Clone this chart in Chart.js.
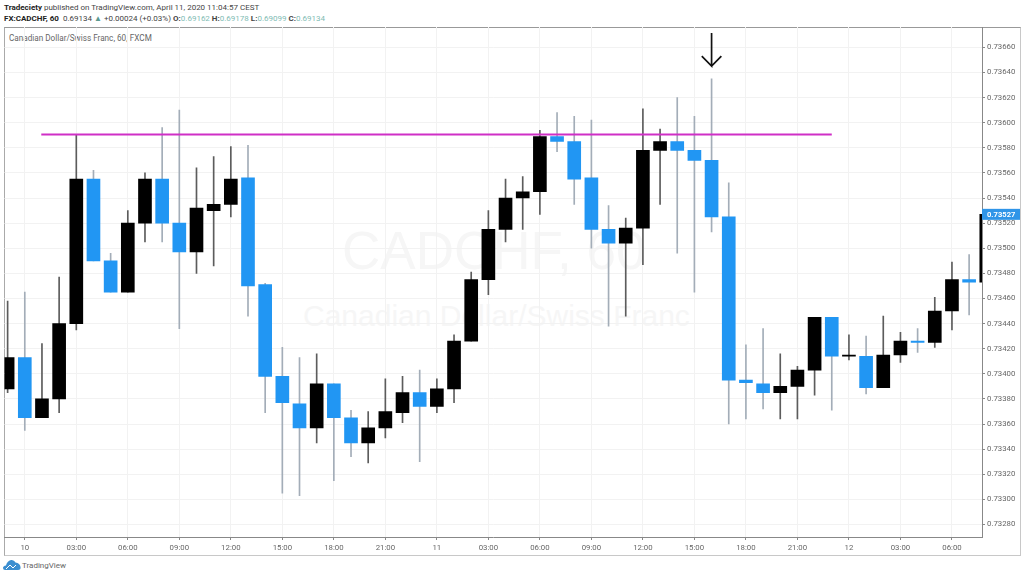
<!DOCTYPE html>
<html>
<head>
<meta charset="utf-8">
<script src="https://cdn.jsdelivr.net/npm/chart.js@4"></script>
<style>
html,body{margin:0;padding:0;background:#fff;width:1024px;height:578px;overflow:hidden;font-family:Roboto,sans-serif}
.t{position:absolute;white-space:nowrap;line-height:1}
#frame{position:absolute;left:4px;top:27px;width:1015px;height:527px;border:1px solid #c8c8c8;border-top-color:#999;border-left-color:#aaa}
canvas{position:absolute;left:0;top:0}
b{font-weight:700}
.v{color:#7fbcb4}
</style>
</head>
<body>
<div id="frame"></div>
<div class="t" style="left:342px;top:224px;font-family:'Liberation Sans',sans-serif;font-size:53px;color:#f6f6f6">CADCHF, 60</div>
<div class="t" style="left:303px;top:301px;font-family:'Liberation Sans',sans-serif;font-size:30px;color:#f6f6f6">Canadian Dollar/Swiss Franc</div>
<div class="t" style="left:4px;top:4px;font-size:8px;color:#444"><b style="color:#222">Tradeciety</b> published on TradingView.com, April 11, 2020 11:04:57 CEST</div>
<div class="t" style="left:4px;top:15px;font-size:8px;color:#444"><b style="color:#222">FX:CADCHF, 60</b>&nbsp; 0.69134 <span style="color:#5a9a90">▲</span> +0.00024 (+0.03%) <b>O:</b><span class="v">0.69162</span> <b>H:</b><span class="v">0.69178</span> <b>L:</b><span class="v">0.69099</span> <b>C:</b><span class="v">0.69134</span></div>
<div class="t" style="left:9px;top:34px;font-size:8.17px;color:#666">Canadian Dollar/Swiss Franc, 60, FXCM</div>
<svg style="position:absolute;left:3px;top:559px" width="18" height="12" viewBox="0 0 18 12"><path d="M2 11 Q0 11 0 9 Q0 7 3 6.5 Q4 2 8 1 Q11 0.5 12.5 3.5 Q17 4 17.5 8 Q18 11 15 11 Z" fill="#3b8ed0"/><path d="M3 10 L7 6 L10 9 L13 6" stroke="#fff" stroke-width="1" fill="none"/></svg>
<div class="t" style="left:22px;top:562px;font-size:8px;color:#666">TradingView</div>
<canvas id="c" width="1024" height="578" style="width:1024px;height:578px"></canvas>
<script>
const candleHours = [-1,0,1,2,3,4,5,6,7,8,9,10,11,12,13,14,15,16,17,18,19,20,21,22,23,24,25,26,27,28,29,30,31,32,33,34,35,36,37,38,39,40,41,42,43,44,45,46,47,48,49,50,51,52,53,54,55,56];
const opens  = [0.73388,0.73413,0.73365,0.73380,0.73440,0.73555,0.73490,0.73465,0.73520,0.73555,0.73520,0.73497,0.73530,0.73535,0.73556,0.73471,0.73398,0.73376,0.73357,0.73392,0.73365,0.73345,0.73357,0.73369,0.73385,0.73374,0.73388,0.73426,0.73475,0.73515,0.73540,0.73545,0.73589,0.73585,0.73556,0.73515,0.73504,0.73516,0.73578,0.73585,0.73578,0.73570,0.73525,0.73395,0.73392,0.73385,0.73390,0.73403,0.73445,0.73414,0.73414,0.73389,0.73415,0.73426,0.73425,0.73450,0.73475,0.73473];
const closes = [0.73413,0.73365,0.73380,0.73440,0.73555,0.73490,0.73465,0.73520,0.73555,0.73520,0.73497,0.73532,0.73535,0.73555,0.73470,0.73398,0.73377,0.73357,0.73392,0.73365,0.73345,0.73357,0.73370,0.73385,0.73374,0.73388,0.73426,0.73475,0.73515,0.73540,0.73545,0.73589,0.73585,0.73555,0.73515,0.73504,0.73516,0.73578,0.73585,0.73578,0.73570,0.73525,0.73395,0.73393,0.73385,0.73390,0.73403,0.73445,0.73414,0.73415,0.73389,0.73415,0.73426,0.73425,0.73450,0.73475,0.73473,0.73527];
const highs  = [0.73458,0.73465,0.73424,0.73477,0.73590,0.73562,0.73496,0.73530,0.73560,0.73596,0.73610,0.73564,0.73573,0.73581,0.73582,0.73472,0.73421,0.73413,0.73416,0.73392,0.73371,0.73370,0.73396,0.73398,0.73403,0.73396,0.73431,0.73481,0.73530,0.73555,0.73557,0.73594,0.73608,0.73605,0.73602,0.73534,0.73524,0.73611,0.73595,0.73620,0.73605,0.73635,0.73552,0.73423,0.73436,0.73416,0.73406,0.73445,0.73445,0.73431,0.73430,0.73446,0.73433,0.73436,0.73461,0.73489,0.73495,0.73527];
const lows   = [0.73385,0.73355,0.73365,0.73369,0.73435,0.73490,0.73465,0.73465,0.73505,0.73505,0.73436,0.73480,0.73486,0.73525,0.73446,0.73369,0.73305,0.73303,0.73345,0.73315,0.73334,0.73329,0.73349,0.73361,0.73330,0.73369,0.73377,0.73426,0.73463,0.73505,0.73515,0.73527,0.73577,0.73535,0.73500,0.73438,0.73446,0.73487,0.73535,0.73496,0.73465,0.73513,0.73360,0.73364,0.73372,0.73364,0.73364,0.73383,0.73371,0.73411,0.73384,0.73389,0.73409,0.73417,0.73421,0.73435,0.73447,0.73473];
const xTickValues = [0,3,6,9,12,15,18,21,24,27,30,33,36,39,42,45,48,51,54];
const xTickLabels = ['10','03:00','06:00','09:00','12:00','15:00','18:00','21:00','11','03:00','06:00','09:00','12:00','15:00','18:00','21:00','12','03:00','06:00'];
const yTickValues = [0.7328,0.7330,0.7332,0.7334,0.7336,0.7338,0.7340,0.7342,0.7344,0.7346,0.7348,0.7350,0.7352,0.7354,0.7356,0.7358,0.7360,0.7362,0.7364,0.7366];
const levelHours = [0.96,47.0];
const levelPrices = [0.735905,0.735905];
const arrowHours = [40,40,39.43,40,40.57];
const arrowPrices = [0.736715,0.736451,0.736530,0.736451,0.736530];
const lastPrice = 0.73527;
const xRange = [-1.182,55.75];
const yRange = [0.7327004,0.736762];

const BLUE='#2196f3', BLACK='#000000', WICK_BLUE='#a3adb8', WICK_BLACK='#5c5c5c';
const isUp = candleHours.map((h,i)=>closes[i]>opens[i]);

const priceLabel = {
  id:'priceLabel',
  afterDraw(chart){
    const {ctx,scales:{y},chartArea:a}=chart;
    const py=y.getPixelForValue(lastPrice);
    ctx.save();
    ctx.fillStyle='#2f95e8';
    ctx.fillRect(a.right,py-5.5,38,11);
    ctx.fillStyle='#fff';
    ctx.font='700 7.6px Roboto';
    ctx.textBaseline='middle';
    ctx.fillText(lastPrice.toFixed(5),a.right+5,py+0.5);
    ctx.restore();
  }
};

new Chart(document.getElementById('c'),{
  type:'bar',
  plugins:[priceLabel],
  data:{datasets:[
    {type:'scatter',label:'arrow',data:arrowHours.map((x,i)=>({x,y:arrowPrices[i]})),showLine:true,borderColor:'#111',borderWidth:1.7,pointRadius:0,order:0},
    {type:'scatter',label:'level',data:levelHours.map((x,i)=>({x,y:levelPrices[i]})),showLine:true,borderColor:'#cf2fc6',borderWidth:2,pointRadius:0,order:1},
    {label:'body',data:candleHours.map((x,i)=>({x,y:[opens[i],closes[i]]})),backgroundColor:isUp.map(u=>u?BLACK:BLUE),barThickness:13,grouped:false,order:2},
    {label:'wick',data:candleHours.map((x,i)=>({x,y:[lows[i],highs[i]]})),backgroundColor:isUp.map(u=>u?WICK_BLACK:WICK_BLUE),barThickness:1,grouped:false,order:3}
  ]},
  options:{
    responsive:false,animation:false,
    layout:{padding:{left:4.5,top:27,right:4,bottom:23}},
    plugins:{legend:{display:false},tooltip:{enabled:false},title:{display:false}},
    scales:{
      x:{type:'linear',offset:false,min:xRange[0],max:xRange[1],
        afterBuildTicks(s){s.ticks=xTickValues.map(value=>({value}));},
        afterFit(s){s.height=18;},
        grid:{offset:false,color:'#f2f2f2',tickColor:'#888',tickLength:3,drawTicks:true},
        border:{color:'#888',width:1},
        ticks:{autoSkip:false,maxRotation:0,padding:3,color:'#666',font:{family:'Roboto',size:7.8},callback:v=>xTickLabels[xTickValues.indexOf(v)]}
      },
      y:{type:'linear',position:'right',min:yRange[0],max:yRange[1],
        afterBuildTicks(s){s.ticks=yTickValues.map(value=>({value}));},
        afterFit(s){s.width=38;},
        grid:{color:'#f2f2f2',tickColor:'#888',tickLength:3},
        border:{color:'#888',width:1},
        ticks:{padding:2,color:'#666',font:{family:'Roboto',size:7.8},callback:v=>v.toFixed(5)}
      }
    }
  }
});
</script>
</body>
</html>
